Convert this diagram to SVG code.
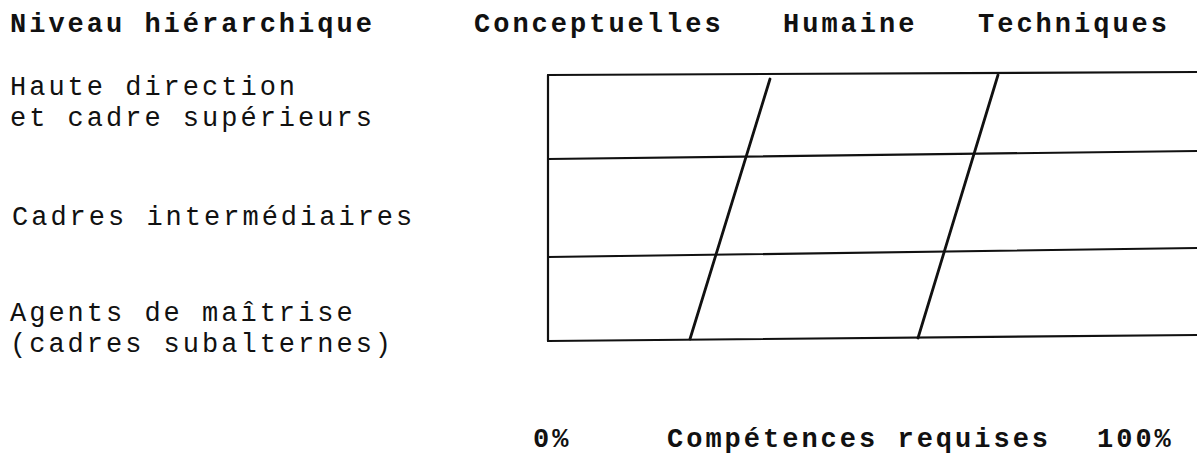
<svg xmlns="http://www.w3.org/2000/svg" width="1197" height="457" viewBox="0 0 1197 457">
<style>
text{font-family:"Liberation Mono","Courier New",monospace;font-size:27px;letter-spacing:3px;fill:#111}
.b{font-weight:bold}
.g{stroke:#111;stroke-width:2.2;fill:none;stroke-linecap:round}
.d{stroke:#111;stroke-width:2.8;fill:none;stroke-linecap:round}
</style>
<rect width="1197" height="457" fill="#fff"/>
<g id="header">
<text class="b" x="10" y="32">Niveau hiérarchique</text>
<text class="b" x="474" y="32">Conceptuelles</text>
<text class="b" x="783" y="32">Humaine</text>
<text class="b" x="978" y="32">Techniques</text>
</g>
<g id="level-top">
<text x="10" y="95">Haute direction</text>
<text x="10" y="126">et cadre supérieurs</text>
</g>
<g id="level-middle">
<text x="12" y="225">Cadres intermédiaires</text>
</g>
<g id="level-low">
<text x="10" y="321">Agents de maîtrise</text>
<text x="10" y="352">(cadres subalternes)</text>
</g>
<g id="grid">
<line class="g" x1="548" y1="75" x2="548" y2="341"/>
<line class="g" x1="548" y1="75" x2="1197" y2="72"/>
<line class="g" x1="548" y1="159" x2="1197" y2="151"/>
<line class="g" x1="548" y1="257" x2="1197" y2="248"/>
<line class="g" x1="548" y1="341" x2="1197" y2="335"/>
</g>
<g id="connectors">
<line class="d" x1="770" y1="79" x2="690" y2="339"/>
<line class="d" x1="998" y1="75" x2="918" y2="338"/>
</g>
<g id="axis">
<text class="b" x="533" y="447">0%</text>
<text class="b" x="667" y="447">Compétences requises</text>
<text class="b" x="1097" y="447">100%</text>
</g>
</svg>
